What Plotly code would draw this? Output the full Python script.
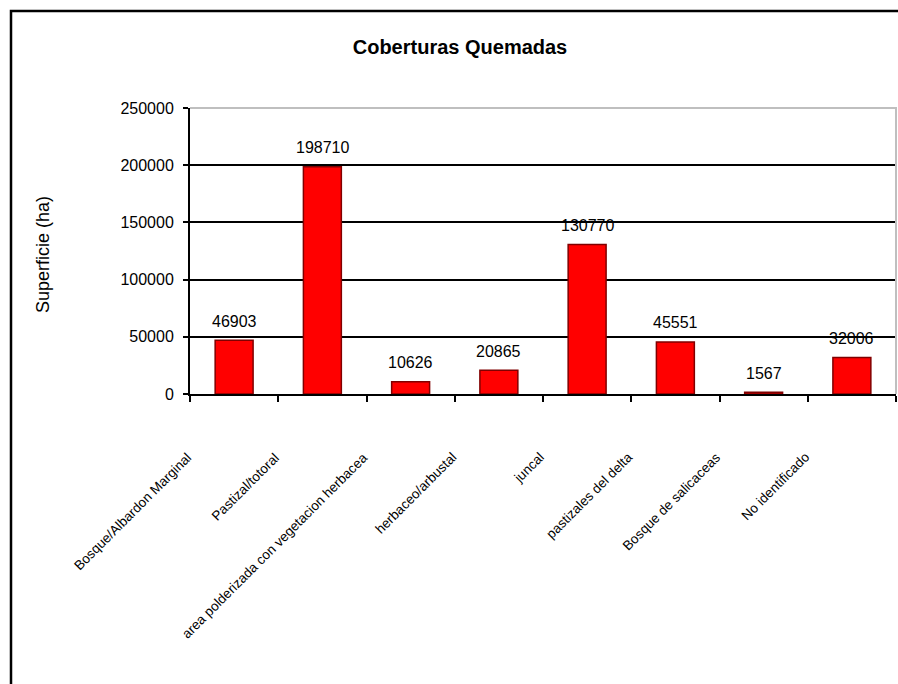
import plotly.graph_objects as go

categories = [
    "Bosque/Albardon Marginal",
    "Pastizal/totoral",
    "area polderizada con vegetacion herbacea",
    "herbaceo/arbustal",
    "juncal",
    "pastizales del delta",
    "Bosque de salicaceas",
    "No identificado",
]
values = [46903, 198710, 10626, 20865, 130770, 45551, 1567, 32006]
y_ticks = [0, 50000, 100000, 150000, 200000, 250000]

W, H = 898, 684
L, R, T, B = 190, 2, 108, 290
PW, PH = W - L - R, H - T - B

def px(x):
    return (x - L) / PW

def py(y):
    return (H - B - y) / PH

FONT = "Liberation Sans, Arial, sans-serif"

fig = go.Figure()
fig.add_trace(go.Bar(
    x=categories, y=values,
    marker=dict(color="#FF0000", line=dict(color="#800000", width=1.5)),
    hoverinfo="skip",
))

annotations = []
for c, v in zip(categories, values):
    annotations.append(dict(
        x=c, y=v, xref="x", yref="y", text=str(v), showarrow=False,
        yanchor="middle", yshift=19, font=dict(family=FONT, size=16, color="#000"),
    ))
    annotations.append(dict(
        x=c, y=py(447), xref="x", yref="paper", text=c, showarrow=False,
        xanchor="right", yanchor="top", xshift=-37, textangle=-45,
        font=dict(family=FONT, size=13.5, color="#000"),
    ))
annotations.append(dict(
    x=px(43), y=py(255), xref="paper", yref="paper", text="Superficie (ha)",
    showarrow=False, textangle=-90, xanchor="center", yanchor="middle",
    font=dict(family=FONT, size=18, color="#000"),
))

shapes = [
    # plot area border (top and right, gray)
    dict(type="path", xref="paper", yref="paper",
         path="M 0,1 L 1,1 L 1,0", line=dict(color="#BFBFBF", width=2), layer="above"),
    # outer chart frame
    dict(type="rect", xref="paper", yref="paper",
         x0=px(11), y0=py(700), x1=px(910), y1=py(11),
         line=dict(color="#000", width=2.5), layer="above"),
]

fig.update_layout(
    width=W, height=H,
    margin=dict(l=L, r=R, t=T, b=B, autoexpand=False),
    paper_bgcolor="white", plot_bgcolor="white",
    bargap=0.57, showlegend=False,
    title=dict(text="Coberturas Quemadas", x=460 / W, xanchor="center",
               y=1 - 47 / H, yanchor="middle", yref="container",
               font=dict(family=FONT, size=20, color="#000", weight="bold")),
    annotations=annotations, shapes=shapes,
    xaxis=dict(
        type="category", range=[-0.5, len(categories) - 0.5], autorange=False,
        showticklabels=False, tickson="boundaries",
        ticks="outside", ticklen=6, tickwidth=2, tickcolor="#000",
        showline=True, linecolor="#000", linewidth=2, showgrid=False,
    ),
    yaxis=dict(
        range=[0, 250000], autorange=False, tickvals=y_ticks,
        ticktext=[str(t) for t in y_ticks],
        ticks="outside", ticklen=5, tickwidth=2, tickcolor="#000",
        showline=True, linecolor="#000", linewidth=2,
        showgrid=True, gridcolor="#000", gridwidth=1.5, zeroline=False,
        tickfont=dict(family=FONT, size=16, color="#000"),
        ticklabelstandoff=6,
    ),
)

fig.write_html("out.html")
